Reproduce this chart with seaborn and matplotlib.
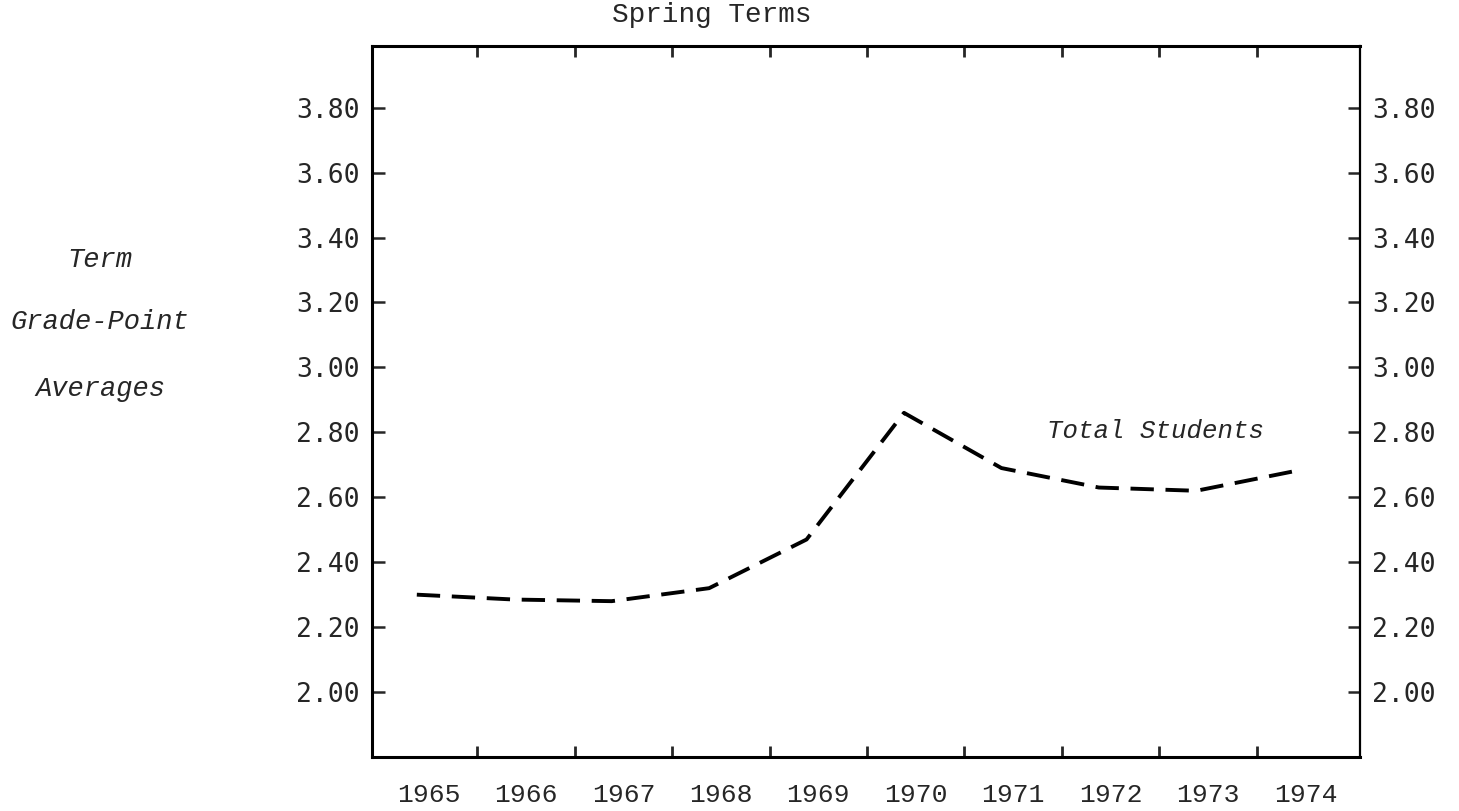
import numpy as np
import matplotlib
matplotlib.use("Agg")
import matplotlib.pyplot as plt
import seaborn as sns

years = ["1965", "1966", "1967", "1968", "1969", "1970", "1971", "1972", "1973", "1974"]
gpa_total = [2.30, 2.285, 2.28, 2.32, 2.47, 2.86, 2.69, 2.63, 2.62, 2.68]
gpa_ticks = [2.00, 2.20, 2.40, 2.60, 2.80, 3.00, 3.20, 3.40, 3.60, 3.80]
gpa_tick_labels = ["2.00", "2.20", "2.40", "2.60", "2.80", "3.00", "3.20", "3.40", "3.60", "3.80"]

sns.set_style("ticks")
plt.rcParams["font.family"] = ["Liberation Mono", "DejaVu Sans Mono"]

fig = plt.figure(figsize=(14.59, 8.11), dpi=100)
ax = fig.add_axes([372 / 1459, 1 - 757 / 811, 988 / 1459, 711 / 811])

pos = np.arange(len(years))
# points are plotted a little left of each year's column centre
sns.lineplot(x=pos - 0.12, y=gpa_total, ax=ax, color="black", linewidth=2.8,
             linestyle=(0, (6, 3.0)), legend=False)

ax.set_xlim(-0.58, 9.56)
ax.set_ylim(1.80, 3.99)

# year ticks sit between columns; the year names go at the column centres
ax.set_xticks(pos[:-1] + 0.5)
ax.set_xticklabels([])
ax.set_xticks(pos, minor=True)
ax.set_xticklabels(years, minor=True, fontsize=19, family="Liberation Mono")
ax.tick_params(axis="x", which="minor", length=0, pad=19)
ax.tick_params(axis="x", which="major", direction="in", length=8, width=2,
               top=True, bottom=True)

ax.set_yticks(gpa_ticks)
ax.set_yticklabels(gpa_tick_labels, fontsize=19, family="DejaVu Sans Mono")
ax.tick_params(axis="y", which="major", direction="in", length=9, width=1.8,
               left=True, right=True, labelleft=True, labelright=True, pad=9)

for side in ["left", "right", "top", "bottom"]:
    ax.spines[side].set_visible(True)
    ax.spines[side].set_linewidth(2.2)
    ax.spines[side].set_color("black")
ax.spines["right"].set_linewidth(1.6)

fig.text(712 / 1459, 1 - 15 / 811, "Spring Terms", fontsize=20,
         family="Liberation Mono", ha="center", va="center")

for txt, yy in [("Term", 260), ("Grade-Point", 322), ("Averages", 389)]:
    fig.text(100 / 1459, 1 - yy / 811, txt, fontsize=19.5, style="italic",
             family="Liberation Mono", ha="center", va="center")

ax.text(6.35, 2.805, "Total Students", fontsize=18.5, style="italic",
        family="Liberation Mono", ha="left", va="center")

fig.savefig("out.png", dpi=100, facecolor="white")
